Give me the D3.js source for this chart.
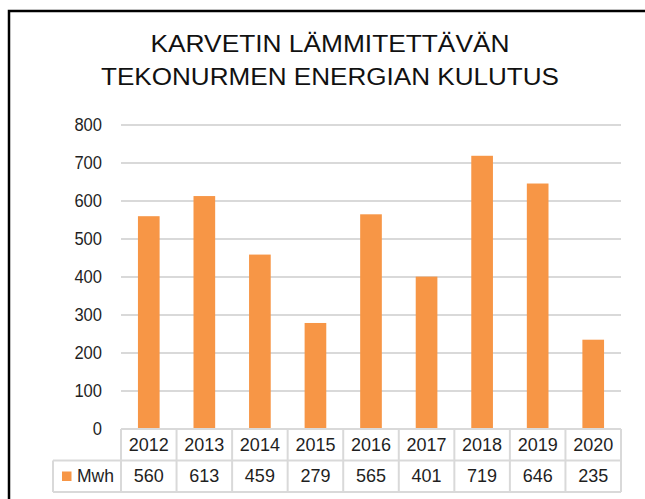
<!DOCTYPE html>
<html>
<head>
<meta charset="utf-8">
<script src="https://cdn.jsdelivr.net/npm/d3@7"></script>
<style>
  body { margin: 0; background: #fff; }
  svg { display: block; font-family: "Liberation Sans", Arial, sans-serif; }
</style>
</head>
<body>
<div id="chart"></div>
<script>
var years = ["2012", "2013", "2014", "2015", "2016", "2017", "2018", "2019", "2020"];
var mwh = [560, 613, 459, 279, 565, 401, 719, 646, 235];
var yTicks = [0, 100, 200, 300, 400, 500, 600, 700, 800];
var titleLines = ["KARVETIN LÄMMITETTÄVÄN", "TEKONURMEN ENERGIAN KULUTUS"];
var seriesName = "Mwh";

var width = 645, height = 499,
    margin = {top: 125, right: 24, bottom: 70, left: 121},
    barColor = "#F79646",
    gridColor = "#D9D9D9",
    textColor = "#1f1f1f";

var svg = d3.select("#chart").append("svg")
    .attr("width", width)
    .attr("height", height);

// chart frame (runs off the right and bottom edge)
svg.append("rect")
  .attr("x", 9).attr("y", 11)
  .attr("width", 660).attr("height", 520)
  .attr("fill", "none")
  .attr("stroke", "#000")
  .attr("stroke-width", 2.5);

// title
var titleW = [359, 458];
svg.selectAll(".title")
  .data(titleLines)
  .enter().append("text")
  .attr("class", "title")
  .attr("x", 330)
  .attr("y", (d, i) => 52 + i * 33)
  .attr("text-anchor", "middle")
  .attr("font-size", 23)
  .attr("fill", "#111")
  .attr("textLength", (d, i) => titleW[i])
  .attr("lengthAdjust", "spacingAndGlyphs")
  .text(d => d);

var x = d3.scaleBand()
    .domain(years)
    .range([margin.left, width - margin.right]);

var y = d3.scaleLinear()
    .domain([0, 800])
    .range([height - margin.bottom, margin.top]);

// grid lines
svg.append("g")
  .selectAll("line")
  .data(yTicks.slice(1))
  .enter().append("line")
  .attr("x1", margin.left).attr("x2", width - margin.right)
  .attr("y1", d => y(d)).attr("y2", d => y(d))
  .attr("stroke", gridColor)
  .attr("stroke-width", 2);

// y axis labels
var yAxis = d3.axisLeft(y).tickValues(yTicks).tickSize(0).tickPadding(19);
var yg = svg.append("g")
  .attr("transform", "translate(" + margin.left + ",0)")
  .call(yAxis);
yg.select(".domain").remove();
yg.selectAll("text")
  .attr("font-size", 18)
  .attr("font-family", "Liberation Sans, Arial, sans-serif")
  .attr("fill", textColor)
  .attr("textLength", d => String(d).length * 9.2)
  .attr("lengthAdjust", "spacingAndGlyphs");

// bars
var barW = x.bandwidth() * 0.39;
svg.append("g")
  .selectAll("rect")
  .data(mwh)
  .enter().append("rect")
  .attr("x", (d, i) => x(years[i]) + (x.bandwidth() - barW) / 2)
  .attr("y", d => y(d))
  .attr("width", barW)
  .attr("height", d => y(0) - y(d))
  .attr("fill", barColor);

// data table
var t0 = y(0), rowH = 31.5, legendLeft = 53;
var table = svg.append("g");
var lineAttr = function(sel) {
  sel.attr("stroke", gridColor).attr("stroke-width", 2).attr("fill", "none");
};

// horizontal lines
table.append("line").call(lineAttr)
  .attr("x1", margin.left).attr("x2", width - margin.right)
  .attr("y1", t0).attr("y2", t0);
table.append("line").call(lineAttr)
  .attr("x1", legendLeft).attr("x2", width - margin.right)
  .attr("y1", t0 + rowH).attr("y2", t0 + rowH);
table.append("line").call(lineAttr)
  .attr("x1", legendLeft).attr("x2", width - margin.right)
  .attr("y1", t0 + 2 * rowH).attr("y2", t0 + 2 * rowH);

// vertical lines
var edges = years.map(d => x(d)).concat([x.range()[1]]);
table.selectAll(".vline")
  .data(edges)
  .enter().append("line")
  .attr("class", "vline")
  .call(lineAttr)
  .attr("x1", d => d).attr("x2", d => d)
  .attr("y1", t0).attr("y2", t0 + 2 * rowH);
table.append("line").call(lineAttr)
  .attr("x1", legendLeft).attr("x2", legendLeft)
  .attr("y1", t0 + rowH).attr("y2", t0 + 2 * rowH);

// year row
table.selectAll(".yr")
  .data(years)
  .enter().append("text")
  .attr("class", "yr")
  .attr("x", d => x(d) + x.bandwidth() / 2)
  .attr("y", t0 + 21.5)
  .attr("text-anchor", "middle")
  .attr("font-size", 18)
  .attr("fill", textColor)
  .text(d => d);

// value row
table.selectAll(".val")
  .data(mwh)
  .enter().append("text")
  .attr("class", "val")
  .attr("x", (d, i) => x(years[i]) + x.bandwidth() / 2)
  .attr("y", t0 + rowH + 21.5)
  .attr("text-anchor", "middle")
  .attr("font-size", 18)
  .attr("fill", textColor)
  .text(d => d);

// legend key
table.append("rect")
  .attr("x", 62).attr("y", t0 + rowH + 11)
  .attr("width", 9.5).attr("height", 9.5)
  .attr("fill", barColor);
table.append("text")
  .attr("x", 77)
  .attr("y", t0 + rowH + 21.5)
  .attr("font-size", 18)
  .attr("fill", textColor)
  .attr("textLength", 37)
  .attr("lengthAdjust", "spacingAndGlyphs")
  .text(seriesName);
</script>
</body>
</html>
